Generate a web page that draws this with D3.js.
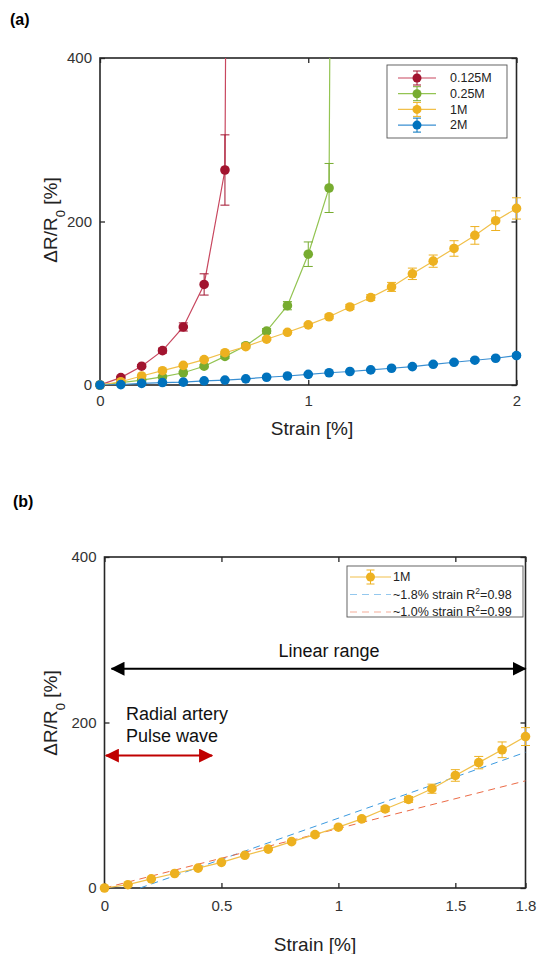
<!DOCTYPE html>
<html>
<head>
<meta charset="utf-8">
<script src="https://cdn.jsdelivr.net/npm/d3@7"></script>
<style>
	body {margin:0; background:#fff;}
	svg {display:block; font-family:"Liberation Sans", Arial, Helvetica, sans-serif;}
</style>
</head>
<body>
<svg id="chart" width="537" height="954"></svg>
<script>
'use strict';

/***************************************
 * DATA
 ***************************************/

//strain steps [%] for each concentration
var strain0125 = [0,0.1,0.2,0.3,0.4,0.5,0.6,0.7];
var strain025 = [0,0.1,0.2,0.3,0.4,0.5,0.6,0.7,0.8,0.9,1.0,1.1,1.2];
var strain1 = [0,0.1,0.2,0.3,0.4,0.5,0.6,0.7,0.8,0.9,1.0,1.1,1.2,1.3,1.4,1.5,1.6,1.7,1.8,1.9,2.0];
var strain2 = strain1;

//dR/R0 [%] and error (+/-) for each concentration
var val0125 = [0,9,23,42,71,123,263,5000];
var err0125 = [0,1.5,2,3,5,13,43,0];
var val025 = [0,3,6,10,15,23,35,48,66,97,160,241,5000];
var err025 = [0,0.5,1,1,1.5,2,2.5,3,3,5,15,30,0];
var val1 = [0,4,11,17.5,24,31,39.5,47,56,64.5,73.5,83.5,95.5,107,120,136,151.5,167,183,201,216];
var err1 = [0,0.5,0.5,1,1,1,1,1.5,1.5,2,2,2.5,3,3.5,5.5,7,7.5,9.5,10.8,12,13];
var val2 = [0,0.5,2,3,3.5,5,6,7.5,9.5,11,13,15,16.5,18.5,20.5,22.5,25.3,27.8,30.3,32.7,36];
var err2 = [0,0,0.3,0.3,0.4,0.5,0.5,0.6,0.7,0.8,0.9,1,1,1.1,1.2,1.3,1.4,1.5,1.6,1.8,2];

var seriesNames = ['0.125M','0.25M','1M','2M'];

//linear fits in panel (b): [strain, dR/R0] end points
var fit18 = [[0.152,0],[1.8,164]];
var fit10 = [[0,0],[1.8,129.5]];
var fitNames = ['~1.8% strain R', '~1.0% strain R'];
var fitR2 = ['0.98','0.99'];

//ticks
var xTicksA = [0,1,2];
var xTicksB = [0,0.5,1,1.5,1.8];
var yTicks = [0,200,400];

//annotation ranges in panel (b) [strain], at height [dR/R0]
var linearRange = [0.03,1.8], linearLevel = 265;
var pulseRange = [0.006,0.46], pulseLevel = 160;

/***************************************
 * STYLE
 ***************************************/
var COLORS = ['#A2142F','#77AC30','#EDB120','#0072BD'];
var LINE_COLORS = ['#c8475f','#93c452','#f1c04a','#3a8fd2'];
var FIT_COLORS = ['#3d9be0','#ec6a45'];
var AXIS_COLOR = '#262626';
var R = 4.8;

var svg = d3.select('#chart');

//arrow heads
var defs = svg.append('defs');
[['arrowBlack','#000'],['arrowRed','#c00000']].forEach(function(a) {
	defs.append('marker')
		.attr('id',a[0])
		.attr('viewBox','0 0 14 14')
		.attr('refX',13).attr('refY',7)
		.attr('markerWidth',14).attr('markerHeight',14)
		.attr('markerUnits','userSpaceOnUse')
		.attr('orient','auto-start-reverse')
	.append('path')
		.attr('d','M0,0 L14,7 L0,14 Z')
		.attr('fill',a[1]);
});

/**
 * Draw the frame, mirrored inward ticks, tick labels and axis titles of a panel
 */
function drawAxes(g, x, y, xTicks, opts) {
	var x0 = x.range()[0], x1 = x.range()[1];
	var y0 = y.range()[0], y1 = y.range()[1];
	var fmt = function(d){return String(d);};

	g.append('g')
		.attr('transform','translate(0,'+y0+')')
		.call(d3.axisBottom(x).tickValues(xTicks).tickFormat(fmt)
			.tickSizeInner(-5).tickSizeOuter(0).tickPadding(opts.xPad));
	g.append('g')
		.attr('transform','translate(0,'+y1+')')
		.call(d3.axisTop(x).tickValues(xTicks).tickFormat('')
			.tickSizeInner(-5).tickSizeOuter(0));
	g.append('g')
		.attr('transform','translate('+x0+',0)')
		.call(d3.axisLeft(y).tickValues(yTicks).tickFormat(fmt)
			.tickSizeInner(-5).tickSizeOuter(0).tickPadding(8));
	g.append('g')
		.attr('transform','translate('+x1+',0)')
		.call(d3.axisRight(y).tickValues(yTicks).tickFormat('')
			.tickSizeInner(-5).tickSizeOuter(0));

	g.selectAll('.domain').remove();
	g.selectAll('.tick line').attr('stroke',AXIS_COLOR).attr('stroke-width',1.3);
	g.selectAll('.tick text')
		.attr('fill','#333')
		.style('font-size','15px')
		.style('font-family','"Liberation Sans", Arial, sans-serif');

	//frame
	g.append('rect')
		.attr('x',x0).attr('y',y1)
		.attr('width',x1-x0).attr('height',y0-y1)
		.attr('fill','none')
		.attr('stroke',AXIS_COLOR)
		.attr('stroke-width',1.6);

	//x title
	g.append('text')
		.attr('x',opts.xTitleX).attr('y',opts.xTitleY)
		.attr('text-anchor','middle')
		.style('font-size','19px')
		.attr('fill','#222')
		.text('Strain [%]');

	//y title
	var yt = g.append('text')
		.attr('transform','translate('+opts.yTitleX+','+opts.yTitleY+') rotate(-90)')
		.attr('text-anchor','middle')
		.style('font-size','19px')
		.attr('fill','#222');
	yt.append('tspan').text('\u0394R/R');
	yt.append('tspan').attr('baseline-shift','sub').style('font-size','13px').text('0');
	yt.append('tspan').text(' [%]');
}

/**
 * Draw one data series: connecting line, error bars and markers
 */
function drawSeries(g, x, y, xs, vs, es, color, lineColor, clipId) {
	var pts = xs.map(function(s,i){return {s:s, v:vs[i], e:es[i]};});
	var maxY = y.domain()[1];

	g.append('path')
		.datum(pts)
		.attr('clip-path','url(#'+clipId+')')
		.attr('fill','none')
		.attr('stroke',lineColor)
		.attr('stroke-width',1.2)
		.attr('d',d3.line()
			.x(function(d){return x(d.s);})
			.y(function(d){return y(d.v);}));

	var inside = pts.filter(function(d){return d.v <= maxY;});

	var eb = g.append('g').selectAll('g')
		.data(inside.filter(function(d){return d.e > 0;}))
		.enter().append('g')
			.attr('stroke',color)
			.attr('stroke-width',1);
	eb.append('line')
		.attr('x1',function(d){return x(d.s);})
		.attr('x2',function(d){return x(d.s);})
		.attr('y1',function(d){return y(d.v-d.e);})
		.attr('y2',function(d){return y(d.v+d.e);});
	[-1,1].forEach(function(sign) {
		eb.append('line')
			.attr('x1',function(d){return x(d.s)-4.5;})
			.attr('x2',function(d){return x(d.s)+4.5;})
			.attr('y1',function(d){return y(d.v+sign*d.e);})
			.attr('y2',function(d){return y(d.v+sign*d.e);});
	});

	g.append('g').selectAll('circle')
		.data(inside)
		.enter().append('circle')
			.attr('cx',function(d){return x(d.s);})
			.attr('cy',function(d){return y(d.v);})
			.attr('r',R)
			.attr('fill',color);
}

/**
 * Legend marker: line with an error-bar circle in the middle
 */
function legendMarker(g, xa, xb, yy, color, lineColor) {
	var xm = (xa+xb)/2;
	g.append('line').attr('x1',xa).attr('x2',xb).attr('y1',yy).attr('y2',yy)
		.attr('stroke',lineColor).attr('stroke-width',1.2);
	g.append('line').attr('x1',xm).attr('x2',xm).attr('y1',yy-7).attr('y2',yy+7)
		.attr('stroke',color).attr('stroke-width',1);
	g.append('line').attr('x1',xm-4).attr('x2',xm+4).attr('y1',yy-7).attr('y2',yy-7)
		.attr('stroke',color).attr('stroke-width',1);
	g.append('line').attr('x1',xm-4).attr('x2',xm+4).attr('y1',yy+7).attr('y2',yy+7)
		.attr('stroke',color).attr('stroke-width',1);
	g.append('circle').attr('cx',xm).attr('cy',yy).attr('r',R-0.3).attr('fill',color);
}

/***************************************
 * PANEL (a)
 ***************************************/
var xA = d3.scaleLinear().domain([0,2]).range([100,516.5]);
var yA = d3.scaleLinear().domain([0,400]).range([385,58]);
var gA = svg.append('g');

defs.append('clipPath').attr('id','clipA')
	.append('rect')
		.attr('x',xA.range()[0]).attr('y',yA.range()[1])
		.attr('width',xA.range()[1]-xA.range()[0])
		.attr('height',yA.range()[0]-yA.range()[1]);

svg.append('text').attr('x',10).attr('y',25)
	.style('font-size','16px').style('font-weight','bold').text('(a)');

drawAxes(gA, xA, yA, xTicksA, {xPad:10, xTitleX:312, xTitleY:435, yTitleX:57, yTitleY:220});

var dataA = [
	[strain0125,val0125,err0125],
	[strain025,val025,err025],
	[strain1,val1,err1],
	[strain2,val2,err2]
];
dataA.forEach(function(s,i) {
	drawSeries(gA, xA, yA, s[0], s[1], s[2], COLORS[i], LINE_COLORS[i], 'clipA');
});

//legend (a)
var legA = gA.append('g');
legA.append('rect').attr('x',387).attr('y',65).attr('width',120).attr('height',73)
	.attr('fill','#fff').attr('stroke','#555').attr('stroke-width',0.9);
seriesNames.forEach(function(n,i) {
	var yy = 78+i*15.7;
	legendMarker(legA, 398, 436, yy, COLORS[i], LINE_COLORS[i]);
	legA.append('text').attr('x',450).attr('y',yy).attr('dy','0.35em')
		.style('font-size','12.5px').attr('fill','#222').text(n);
});

/***************************************
 * PANEL (b)
 ***************************************/
var xB = d3.scaleLinear().domain([0,1.8]).range([104.5,525.5]);
var yB = d3.scaleLinear().domain([0,400]).range([888,557]);
var gB = svg.append('g');

defs.append('clipPath').attr('id','clipB')
	.append('rect')
		.attr('x',xB.range()[0]).attr('y',yB.range()[1])
		.attr('width',xB.range()[1]-xB.range()[0])
		.attr('height',yB.range()[0]-yB.range()[1]);

svg.append('text').attr('x',13).attr('y',507)
	.style('font-size','16px').style('font-weight','bold').text('(b)');

drawAxes(gB, xB, yB, xTicksB, {xPad:12, xTitleX:315, xTitleY:951, yTitleX:57, yTitleY:713});

//fit lines
[fit18,fit10].forEach(function(f,i) {
	gB.append('path')
		.datum(f)
		.attr('fill','none')
		.attr('stroke',FIT_COLORS[i])
		.attr('stroke-width',1)
		.attr('stroke-dasharray','7,5')
		.attr('d',d3.line()
			.x(function(d){return xB(d[0]);})
			.y(function(d){return yB(d[1]);}));
});

var nB = strain1.indexOf(1.8)+1;
drawSeries(gB, xB, yB, strain1.slice(0,nB), val1.slice(0,nB), err1.slice(0,nB),
	COLORS[2], LINE_COLORS[2], 'clipB');

//linear range arrow
gB.append('line')
	.attr('x1',xB(linearRange[0])).attr('x2',xB(linearRange[1]))
	.attr('y1',yB(linearLevel)).attr('y2',yB(linearLevel))
	.attr('stroke','#000').attr('stroke-width',2)
	.attr('marker-start','url(#arrowBlack)')
	.attr('marker-end','url(#arrowBlack)');
gB.append('text')
	.attr('x',329).attr('y',yB(linearLevel)-12)
	.attr('text-anchor','middle')
	.style('font-size','18px').attr('fill','#111')
	.text('Linear range');

//pulse wave arrow
gB.append('line')
	.attr('x1',xB(pulseRange[0])).attr('x2',xB(pulseRange[1]))
	.attr('y1',yB(pulseLevel)).attr('y2',yB(pulseLevel))
	.attr('stroke','#c00000').attr('stroke-width',2)
	.attr('marker-start','url(#arrowRed)')
	.attr('marker-end','url(#arrowRed)');
gB.append('text').attr('x',126).attr('y',720)
	.style('font-size','18px').attr('fill','#111').text('Radial artery');
gB.append('text').attr('x',126).attr('y',742)
	.style('font-size','18px').attr('fill','#111').text('Pulse wave');

//legend (b)
var legB = gB.append('g');
legB.append('rect').attr('x',347).attr('y',566).attr('width',176).attr('height',51)
	.attr('fill','#fff').attr('stroke','#555').attr('stroke-width',0.9);
legendMarker(legB, 350, 391, 577, COLORS[2], LINE_COLORS[2]);
legB.append('text').attr('x',393).attr('y',577).attr('dy','0.35em')
	.style('font-size','12.5px').attr('fill','#222').text(seriesNames[2]);
fitNames.forEach(function(n,i) {
	var yy = 594.5+i*17.5;
	legB.append('line').attr('x1',350).attr('x2',391).attr('y1',yy).attr('y2',yy)
		.attr('stroke',FIT_COLORS[i]).attr('stroke-opacity',0.55)
		.attr('stroke-width',1).attr('stroke-dasharray','7,5');
	var t = legB.append('text').attr('x',393).attr('y',yy).attr('dy','0.35em')
		.style('font-size','12.5px').attr('fill','#222');
	t.append('tspan').text(n);
	t.append('tspan').attr('baseline-shift','super').style('font-size','8.5px').text('2');
	t.append('tspan').text('='+fitR2[i]);
});
</script>
</body>
</html>
